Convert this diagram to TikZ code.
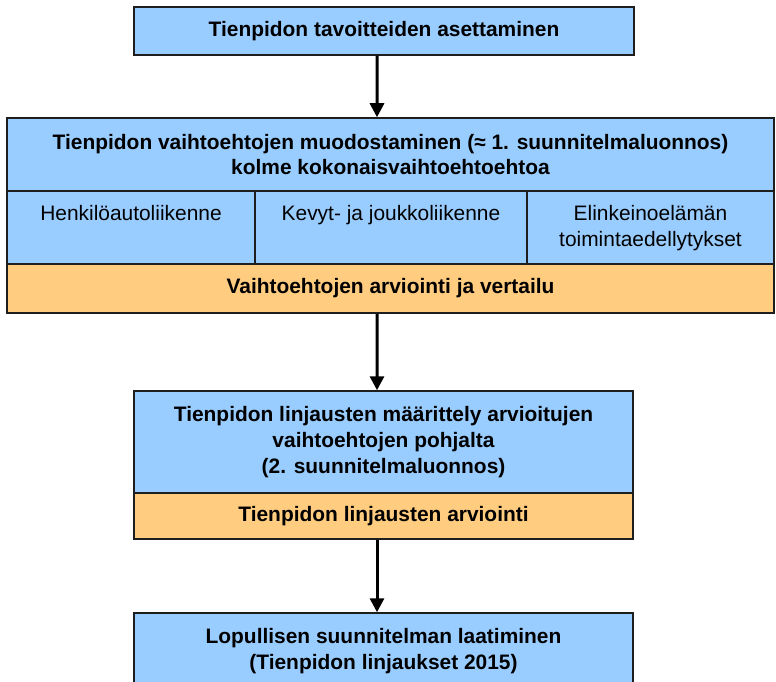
\documentclass[tikz,border=0pt]{standalone}
\usepackage{fontspec}
\setmainfont{Liberation Sans}
\usetikzlibrary{arrows.meta}
\definecolor{boxblue}{RGB}{153,204,255}
\definecolor{boxorange}{RGB}{255,204,128}
\definecolor{edge}{RGB}{30,30,30}
\tikzset{
  base/.style={draw=edge, line width=1.5bp, rectangle, inner sep=0pt, align=center,
    font=\fontsize{21}{26}\selectfont\bfseries},
  bluebox/.style={base, fill=boxblue},
  orangebox/.style={base, fill=boxorange},
  cellbox/.style={draw=edge, line width=1.5bp, rectangle, fill=boxblue, inner sep=0pt},
  celltext/.style={anchor=north, inner sep=0pt, align=center, font=\fontsize{21}{26}\selectfont},
  flow/.style={line width=3bp, draw=black, -{Triangle[width=14bp,length=14bp]}}
}
\begin{document}
\begin{tikzpicture}[x=1bp,y=-1bp]
\useasboundingbox (0,0) rectangle (776,682);
\clip (0,0) rectangle (776,682);
% top box
\node[bluebox, minimum width=500bp, minimum height=48bp] (goal) at (384,31) {Tienpidon tavoitteiden asettaminen};
% big box
\node[bluebox, minimum width=767bp, minimum height=73bp] (alt) at (390.5,154.5)
  {Tienpidon vaihtoehtojen muodostaminen (≈ 1. suunnitelmaluonnos)\\kolme kokonaisvaihtoehtoehtoa};
\node[cellbox, minimum width=248bp, minimum height=73bp] (c1) at (131,227.5) {};
\node[cellbox, minimum width=272bp, minimum height=73bp] (c2) at (391,227.5) {};
\node[cellbox, minimum width=247bp, minimum height=73bp] (c3) at (650.5,227.5) {};
\node[celltext] (t1) at (131,205) {Henkilöautoliikenne};
\node[celltext] (t2) at (391,205) {Kevyt- ja joukkoliikenne};
\node[celltext] (t3) at (650.5,205) {Elinkeinoelämän\\toimintaedellytykset};
\node[orangebox, minimum width=767bp, minimum height=49bp] (eval) at (390.5,288.5) {Vaihtoehtojen arviointi ja vertailu};
% third box
\node[bluebox, minimum width=499bp, minimum height=102bp] (lines) at (383.5,442)
  {Tienpidon linjausten määrittely arvioitujen\\vaihtoehtojen pohjalta\\(2. suunnitelmaluonnos)};
\node[orangebox, minimum width=499bp, minimum height=46bp] (leval) at (383.5,516) {Tienpidon linjausten arviointi};
% final box
\node[bluebox, minimum width=499bp, minimum height=76bp] (final) at (383.5,651)
  {Lopullisen suunnitelman laatiminen\\(Tienpidon linjaukset 2015)};
% arrows
\draw[flow] ([xshift=-7bp]goal.south) -- ([xshift=-13.5bp]alt.north);
\draw[flow] ([xshift=-13.5bp]eval.south) -- ([xshift=-6.5bp]lines.north);
\draw[flow] ([xshift=-6.5bp]leval.south) -- ([xshift=-6.5bp]final.north);
\end{tikzpicture}
\end{document}
